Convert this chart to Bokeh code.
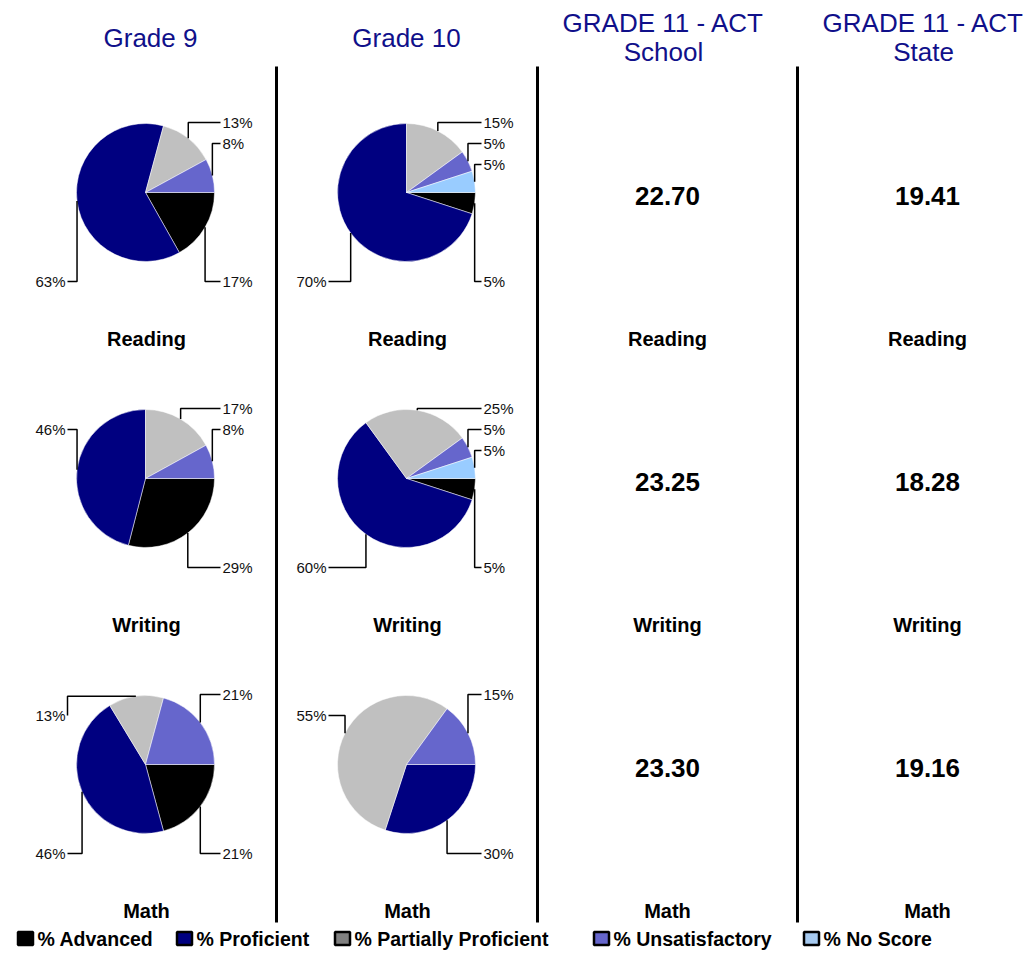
import math
from bokeh.plotting import figure
from bokeh.models import Range1d
from bokeh.core.properties import value
from bokeh.embed import file_html
from bokeh.resources import INLINE

# ---------------- data ----------------
categories = ["% Advanced", "% Proficient", "% Partially Proficient", "% Unsatisfactory", "% No Score"]
pie_colors = ["#000000", "#000080", "#C0C0C0", "#6666CC", "#99CCFF"]
legend_colors = ["#000000", "#000080", "#808080", "#6666CC", "#A6CAF0"]

subjects = ["Reading", "Writing", "Math"]
headers = [["Grade 9"], ["Grade 10"], ["GRADE 11 - ACT", "School"], ["GRADE 11 - ACT", "State"]]

g9_reading = [17, 63, 13, 8, 0]
g9_writing = [29, 46, 17, 8, 0]
g9_math = [21, 46, 13, 21, 0]
g10_reading = [5, 70, 15, 5, 5]
g10_writing = [5, 60, 25, 5, 5]
g10_math = [0, 30, 55, 15, 0]

act_school = [22.70, 23.25, 23.30]
act_state = [19.41, 18.28, 19.16]

# ---------------- layout ----------------
REF_W, REF_H = 1025, 953
W, H = 1025, 953
S = W / REF_W


def Y(y):
    return REF_H - y


def fs(px):
    return "%.1fpx" % (px * S)


col_x = [145, 406, 666, 926]
row_y = [192, 478, 764]
R = 69
sep_x = [276, 537, 797]

SANS = value("Liberation Sans")

p = figure(width=W, height=H, output_backend="svg", toolbar_location=None,
           x_range=Range1d(0, REF_W), y_range=Range1d(0, REF_H),
           min_border=0, outline_line_color=None, background_fill_color="white")
p.axis.visible = False
p.grid.visible = False

# separators
p.segment(x0=sep_x, y0=[Y(66)] * 3, x1=sep_x, y1=[Y(922)] * 3, line_color="black", line_width=3)

# headers
hx, hy, ht = [], [], []
for c, lines in enumerate(headers):
    if len(lines) == 1:
        hx.append(col_x[c] + (5 if c == 0 else 0)); hy.append(Y(37)); ht.append(lines[0])
    else:
        hx += [col_x[c] - 3, col_x[c] - 3]; hy += [Y(22), Y(51)]; ht += lines
p.text(x=hx, y=hy, text=ht, text_font=SANS, text_font_size=fs(26), text_color="#10108A",
       text_align="center", text_baseline="middle")

# subject labels
sx, sy, st = [], [], []
for r, s in enumerate(subjects):
    for c in range(4):
        sx.append(col_x[c] + 1); sy.append(Y(row_y[r] + 146)); st.append(s)
p.text(x=sx, y=sy, text=st, text_font=SANS, text_font_size=fs(20), text_font_style="bold",
       text_color="black", text_align="center", text_baseline="middle")

# ACT numbers
nx, ny, nt = [], [], []
for r in range(3):
    nx += [col_x[2] + 1, col_x[3] + 1]
    ny += [Y(row_y[r] + 3), Y(row_y[r] + 3)]
    nt += ["%.2f" % act_school[r], "%.2f" % act_state[r]]
p.text(x=nx, y=ny, text=nt, text_font=SANS, text_font_size=fs(26), text_font_style="bold",
       text_color="black", text_align="center", text_baseline="middle")

# pies
panels = [
    (0, 0, g9_reading), (1, 0, g10_reading),
    (0, 1, g9_writing), (1, 1, g10_writing),
    (0, 2, g9_math), (1, 2, g10_math),
]

wx, wy, ws, we, wc = [], [], [], [], []
lx_r, ly_r, lt_r = [], [], []
lx_l, ly_l, lt_l = [], [], []
mlx, mly = [], []

for c, r, vals in panels:
    cx, cy = col_x[c], row_y[r]
    total = float(sum(vals))
    cum = 0.0
    items = []
    for i, v in enumerate(vals):
        if v == 0:
            continue
        a0 = cum / total * 360.0
        a1 = (cum + v) / total * 360.0
        cum += v
        wx.append(cx); wy.append(Y(cy))
        ws.append(math.radians(-a1)); we.append(math.radians(-a0))
        wc.append(pie_colors[i])
        mid = math.radians(-(a0 + a1) / 2.0)
        ax = cx + R * math.cos(mid)
        ay = cy - R * math.sin(mid)
        right = math.cos(mid) >= 0
        top = math.sin(mid) > 0
        items.append(dict(v=v, ax=ax, ay=ay, right=right, top=top))
    for right in (True, False):
        tops = sorted([it for it in items if it["right"] == right and it["top"]], key=lambda d: d["ay"])
        base = -70 if right else -49
        for k, it in enumerate(tops):
            it["ly"] = cy + base + 21 * k
        bots = sorted([it for it in items if it["right"] == right and not it["top"]], key=lambda d: -d["ay"])
        for k, it in enumerate(bots):
            it["ly"] = cy + 89 - 21 * k
    for it in items:
        ly = it["ly"]
        if it["right"]:
            ex = cx + 75
            lx_r.append(cx + 77); ly_r.append(Y(ly)); lt_r.append("%d%%" % it["v"])
        else:
            ex = cx - 78
            lx_l.append(cx - 80); ly_l.append(Y(ly)); lt_l.append("%d%%" % it["v"])
        ax, ay = it["ax"], it["ay"]
        if (it["top"] and ly <= ay) or ((not it["top"]) and ly >= ay):
            pts = [(ex, ly), (ax, ly), (ax, ay)]
        else:
            pts = [(ex, ly), (ex, ay), (ax, ay)]
        mlx.append([q[0] for q in pts]); mly.append([Y(q[1]) for q in pts])

p.wedge(x=wx, y=wy, radius=R, start_angle=ws, end_angle=we, fill_color=wc,
        line_color="white", line_width=0.5)
p.multi_line(xs=mlx, ys=mly, line_color="black", line_width=1.5)
p.text(x=lx_r, y=ly_r, text=lt_r, text_font=SANS, text_font_size=fs(15), text_color="#111111",
       text_align="left", text_baseline="middle")
p.text(x=lx_l, y=ly_l, text=lt_l, text_font=SANS, text_font_size=fs(15), text_color="#111111",
       text_align="right", text_baseline="middle")

# legend
leg_sq_x = [25, 184, 342, 601, 811]
leg_tx = [37, 196, 354, 613, 823]
leg_y = 938
p.rect(x=leg_sq_x, y=[Y(leg_y)] * 5, width=15, height=13, fill_color=legend_colors,
       line_color="black", line_width=2.5)
p.text(x=leg_tx, y=[Y(leg_y)] * 5, text=categories, text_font=SANS, text_font_size=fs(19.5),
       text_font_style="bold", text_color="black", text_align="left", text_baseline="middle")

open("out.html", "w").write(file_html(p, INLINE))
